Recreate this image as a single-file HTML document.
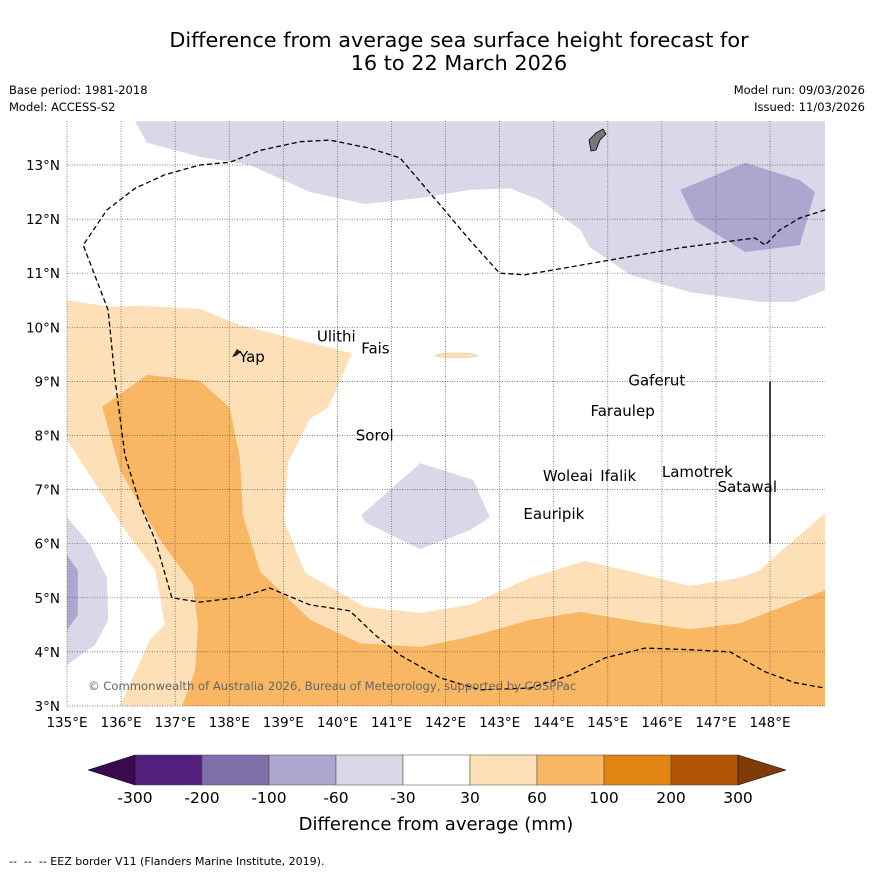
<!DOCTYPE html>
<html><head><meta charset="utf-8">
<style>
body{margin:0;background:#fff;font-family:"Liberation Sans","DejaVu Sans",sans-serif;}
svg text{font-family:"DejaVu Sans","Liberation Sans",sans-serif;}
</style></head>
<body>
<svg id="chart" width="873" height="873" viewBox="0 0 873 873" xmlns="http://www.w3.org/2000/svg">
<rect width="873" height="873" fill="#fff"/>
<text x="459" y="47" font-size="20.8" text-anchor="middle">Difference from average sea surface height forecast for</text>
<text x="459" y="70" font-size="20.8" text-anchor="middle">16 to 22 March 2026</text>
<text x="9" y="94" font-size="11.5">Base period: 1981-2018</text>
<text x="9" y="111" font-size="11.5">Model: ACCESS-S2</text>
<text x="865" y="94" font-size="11.5" text-anchor="end">Model run: 09/03/2026</text>
<text x="865" y="111" font-size="11.5" text-anchor="end">Issued: 11/03/2026</text>
<defs><clipPath id="mapclip"><rect x="67" y="121" width="758" height="585"/></clipPath></defs>
<g id="map" clip-path="url(#mapclip)"></g>
<g id="overlay"></g>
<g id="cbar"></g>
<text x="436" y="830" font-size="18" text-anchor="middle">Difference from average (mm)</text>
<text x="9" y="865" font-size="11">-- &#160;-- &#160;-- EEZ border V11 (Flanders Marine Institute, 2019).</text>
</svg>
<script>
const lonTicks=[135,136,137,138,139,140,141,142,143,144,145,146,147,148];
const latTicks=[3,4,5,6,7,8,9,10,11,12,13];
const cbLevels=[-300,-200,-100,-60,-30,30,60,100,200,300];
const cbColors=["#54207e","#7f70aa","#aea6cf","#d8d8e9","#ffffff","#fde0b8","#f9b663","#e28412","#b05405"];
const lightPurpleTop=[[136.26,13.81],[136.48,13.41],[137.46,13.15],[138.38,13.0],[139.49,12.5],[140.51,12.28],[141.53,12.39],[142.45,12.54],[143.19,12.57],[143.75,12.35],[144.49,11.8],[144.67,11.48],[145.41,10.97],[146.52,10.65],[147.81,10.47],[148.46,10.47],[149.02,10.69],[149.02,13.81]];
const midPurpleTop=[[146.34,12.54],[147.54,13.04],[148.55,12.72],[148.83,12.5],[148.55,11.52],[147.54,11.39],[146.61,11.98]];
const lightPurpleMid=[[140.45,6.53],[141.53,7.49],[142.51,7.18],[142.82,6.49],[142.45,6.25],[141.53,5.9],[140.51,6.4]];
const lightPurpleLeft=[[135,6.49],[135.43,5.98],[135.74,5.37],[135.76,4.59],[135.52,4.13],[135,3.76]];
const midPurpleLeft=[[135,5.79],[135.2,5.51],[135.2,4.68],[135,4.4]];
const lightOrange=[[135,10.5],[135.8,10.38],[136.35,10.4],[137.46,10.34],[138.2,10.04],[140.27,9.52],[139.83,8.51],[139.5,8.32],[139.09,7.51],[139.01,6.44],[139.4,5.46],[140.51,4.83],[141.53,4.72],[142.45,4.87],[143.56,5.37],[144.58,5.68],[145.32,5.51],[146.52,5.22],[147.44,5.37],[147.81,5.51],[148.37,6.01],[149.02,6.57],[149.02,3],[135.98,3],[136.53,4.22],[136.81,4.5],[136.63,5.51],[136.07,6.25],[135,7.92]];
const midOrange=[[135.65,8.53],[136.48,9.12],[137.46,9.01],[138.01,8.51],[138.2,7.55],[138.25,6.53],[138.57,5.48],[139.5,4.59],[140.42,4.16],[141.53,4.09],[142.45,4.28],[143.56,4.59],[144.49,4.74],[145.6,4.55],[146.52,4.42],[147.44,4.53],[148.37,4.89],[149.02,5.14],[149.02,3],[137.13,3],[137.37,3.67],[137.42,4.5],[137.33,5.24],[136.72,6.07],[135.98,7.36]];
const eez=[[149.02,12.17],[148.55,12.02],[148.18,11.8],[147.91,11.52],[147.72,11.65],[146.34,11.47],[144.86,11.21],[143.47,10.97],[143.0,11.0],[142.45,11.61],[141.9,12.26],[141.16,13.13],[140.6,13.31],[139.86,13.46],[139.31,13.43],[138.57,13.27],[138.01,13.05],[137.46,13.0],[136.81,12.82],[136.26,12.57],[135.74,12.17],[135.3,11.52],[135.76,10.32],[135.89,9.03],[136.07,7.64],[136.35,6.72],[136.63,6.07],[136.94,5.0],[137.46,4.92],[138.2,5.01],[138.75,5.18],[139.49,4.87],[140.23,4.76],[140.7,4.31],[141.16,3.94],[141.9,3.52],[142.64,3.3],[143.56,3.33],[144.3,3.57],[144.95,3.89],[145.69,4.07],[146.52,4.04],[147.26,4.0],[147.91,3.63],[148.46,3.43],[149.02,3.33]];
const islandNames=["Ulithi","Fais","Yap","Gaferut","Faraulep","Sorol","Woleai","Ifalik","Lamotrek","Satawal","Eauripik"];
const islandLon=[139.62,140.44,138.18,145.38,144.68,140.34,143.8,144.86,146.0,147.03,143.44];
const islandLat=[9.98,9.76,9.6,9.16,8.6,8.15,7.4,7.4,7.47,7.2,6.7];
const X=lon=>67+(lon-135)*54.08, Y=lat=>706-(lat-3)*54.1;
const NS="http://www.w3.org/2000/svg";
const map=document.getElementById('map'), ov=document.getElementById('overlay'), cb=document.getElementById('cbar');
function mk(tag,attrs,parent){const e=document.createElementNS(NS,tag);for(const k in attrs)e.setAttribute(k,attrs[k]);parent.appendChild(e);return e;}
function pts(a){return a.map(p=>X(p[0]).toFixed(1)+","+Y(p[1]).toFixed(1)).join(" ");}
function poly(a,fill,name){const e=mk('polygon',{points:pts(a),fill:fill},map);

}
poly(lightOrange,"#fde0b8","contour-30-60");
poly(midOrange,"#f9b663","contour-60-100");
poly(lightPurpleTop,"#d8d8e9","contour-neg30-neg60-north");
poly(midPurpleTop,"#aea6cf","contour-neg60-neg100-north");
poly(lightPurpleMid,"#d8d8e9","contour-neg30-neg60-central");
poly(lightPurpleLeft,"#d8d8e9","contour-neg30-neg60-west");
poly(midPurpleLeft,"#aea6cf","contour-neg60-neg100-west");
const isl=mk('ellipse',{cx:X(142.2),cy:Y(9.48),rx:21,ry:2.5,fill:"#fde0b8",stroke:"#e8c090","stroke-width":0.5},map);


lonTicks.forEach(l=>{const g=mk('line',{x1:X(l),x2:X(l),y1:121,y2:706,stroke:"#555","stroke-width":0.7,"stroke-dasharray":"1,1.5"},ov);


const t=mk('text',{x:X(l),y:727,"font-size":13.5,"text-anchor":"middle"},ov);t.textContent=l+"°E";

});
latTicks.forEach(l=>{const g=mk('line',{x1:67,x2:825,y1:Y(l),y2:Y(l),stroke:"#555","stroke-width":0.7,"stroke-dasharray":"1,1.5"},ov);


const t=mk('text',{x:60,y:Y(l)+5,"font-size":13.5,"text-anchor":"end"},ov);t.textContent=l+"°N";

});
const ez=mk('polyline',{points:pts(eez),fill:"none",stroke:"#000","stroke-width":1.3,"stroke-dasharray":"5,3"},ov);


const vl=mk('line',{x1:X(148),x2:X(148),y1:Y(9),y2:Y(6),stroke:"#000","stroke-width":1.5},ov);


const guam=mk('polygon',{points:"589,140 596,133 603,129 606,134 600,140 596,150 591,151",fill:"#777",stroke:"#000","stroke-width":0.8},ov);


const yap=mk('polygon',{points:"232,357 237,349 241,352 236,356",fill:"#222"},ov);


islandNames.forEach((n,i)=>{const t=mk('text',{x:X(islandLon[i]),y:Y(islandLat[i])+13,"font-size":15},ov);t.textContent=n;

});
const cp=mk('text',{x:88,y:690,"font-size":11.6,fill:"#666"},ov);cp.textContent="© Commonwealth of Australia 2026, Bureau of Meteorology, supported by COSPPac";


const cx0=135,cw=67,cy=755,ch=30;
cbColors.forEach((c,i)=>{const r=mk('rect',{x:cx0+i*cw,y:cy,width:cw,height:ch,fill:c,stroke:"#444","stroke-width":0.5},cb);

});
const la=mk('polygon',{points:`${cx0},${cy} ${cx0},${cy+ch} 88,${cy+ch/2}`,fill:"#3a0a4f",stroke:"#000","stroke-width":0.5},cb);


const re=cx0+cbColors.length*cw;
const ra=mk('polygon',{points:`${re},${cy} ${re},${cy+ch} 786,${cy+ch/2}`,fill:"#7f3b08",stroke:"#000","stroke-width":0.5},cb);


cbLevels.forEach((v,i)=>{const t=mk('text',{x:cx0+i*cw,y:803,"font-size":15.5,"text-anchor":"middle"},cb);t.textContent=v;

});
</script>
</body></html>
